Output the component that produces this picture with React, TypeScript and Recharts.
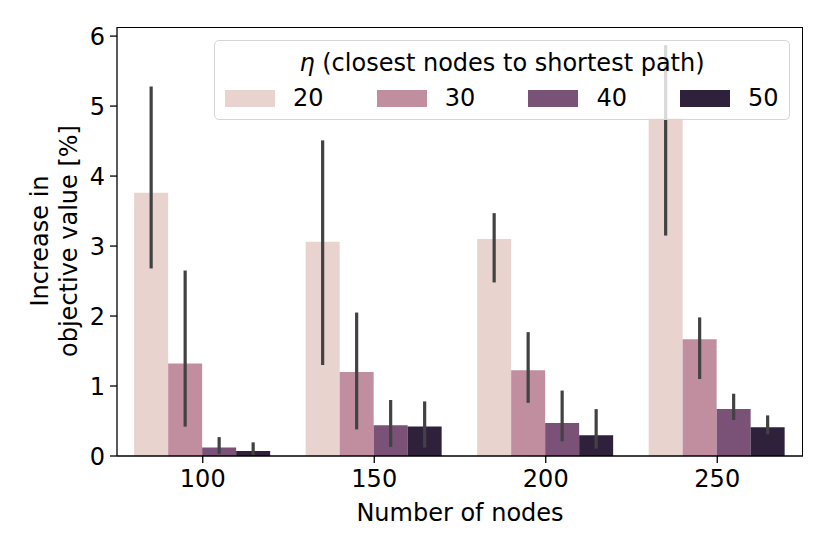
import React from "react";
import {
  BarChart,
  Bar,
  XAxis,
  YAxis,
  ErrorBar,
} from "recharts";

const CATEGORIES = ["100", "150", "200", "250"];
const ETA_LABELS = ["20", "30", "40", "50"];
const COLORS = ["#e9d3cf", "#c08e9f", "#7b5277", "#2f213b"];

// mean increase per eta value
const MEAN_20 = [3.76, 3.06, 3.1, 4.83];
const MEAN_30 = [1.32, 1.2, 1.225, 1.67];
const MEAN_40 = [0.12, 0.44, 0.47, 0.67];
const MEAN_50 = [0.07, 0.42, 0.295, 0.41];

// confidence interval bounds
const LOW_20 = [2.68, 1.3, 2.48, 3.15];
const HIGH_20 = [5.28, 4.51, 3.47, 5.87];
const LOW_30 = [0.42, 0.38, 0.76, 1.1];
const HIGH_30 = [2.65, 2.05, 1.77, 1.98];
const LOW_40 = [0.03, 0.13, 0.21, 0.515];
const HIGH_40 = [0.27, 0.8, 0.935, 0.89];
const LOW_50 = [0.01, 0.12, 0.105, 0.31];
const HIGH_50 = [0.195, 0.78, 0.67, 0.58];

const Y_TICKS = [0, 1, 2, 3, 4, 5, 6];

const MEANS = [MEAN_20, MEAN_30, MEAN_40, MEAN_50];
const LOWS = [LOW_20, LOW_30, LOW_40, LOW_50];
const HIGHS = [HIGH_20, HIGH_30, HIGH_40, HIGH_50];

const data = CATEGORIES.map((cat, i) => {
  const row: Record<string, any> = { nodes: cat };
  ETA_LABELS.forEach((eta, s) => {
    const m = MEANS[s][i];
    row[`m${eta}`] = m;
    row[`e${eta}`] = [m - LOWS[s][i], HIGHS[s][i] - m];
  });
  return row;
});

const FONT = "'DejaVu Sans', sans-serif";
const FS = 24;

function YLabel() {
  return (
    <text
      transform="translate(48,241) rotate(-90)"
      textAnchor="middle"
      fontFamily={FONT}
      fontSize={FS}
      fill="#000"
    >
      <tspan x={0} y={0}>Increase in</tspan>
      <tspan x={0} y={29}>objective value [%]</tspan>
    </text>
  );
}

export default function App() {
  return (
    <div style={{ position: "relative", width: 830, height: 554, fontFamily: FONT }}>
      <style>{"body{margin:0}"}</style>
      <BarChart
        width={830}
        height={554}
        data={data}
        margin={{ top: 27, right: 27, bottom: 0, left: 0 }}
        barCategoryGap="10%"
        barGap={0}
      >
        <XAxis
          dataKey="nodes"
          height={98}
          stroke="#000"
          strokeWidth={1.3}
          tickSize={7}
          tickMargin={7}
          tick={{ fill: "#000", fontSize: FS, fontFamily: FONT }}
          label={{
            value: "Number of nodes",
            position: "insideBottom",
            offset: 33,
            fill: "#000",
            fontSize: FS,
            fontFamily: FONT,
          }}
        />
        <YAxis
          width={117}
          domain={[0, 6.13]}
          ticks={Y_TICKS}
          allowDataOverflow
          stroke="#000"
          strokeWidth={1.3}
          tickSize={7}
          tickMargin={5}
          tick={{ fill: "#000", fontSize: FS, fontFamily: FONT }}
          label={<YLabel />}
        />
        {ETA_LABELS.map((eta, s) => (
          <Bar
            key={eta}
            dataKey={`m${eta}`}
            fill={COLORS[s]}
            isAnimationActive={false}
          >
            <ErrorBar
              dataKey={`e${eta}`}
              width={0}
              stroke="#424242"
              strokeWidth={3.2}
              direction="y"
            />
          </Bar>
        ))}
      </BarChart>

      {/* top and right spines of the axes box */}
      <div
        style={{
          position: "absolute",
          left: 117,
          top: 27,
          width: 686,
          height: 429,
          boxSizing: "border-box",
          borderTop: "1.3px solid #000",
          borderRight: "1.3px solid #000",
          pointerEvents: "none",
        }}
      />

      {/* legend drawn over the plot, semi-transparent like matplotlib */}
      <div
        style={{
          position: "absolute",
          left: 214,
          top: 40,
          width: 576,
          height: 80,
          boxSizing: "border-box",
          border: "1.3px solid #d6d6d6",
          borderRadius: 5,
          background: "rgba(255,255,255,0.8)",
          fontSize: FS,
          color: "#000",
        }}
      >
        <div
          style={{
            position: "absolute",
            left: 0,
            right: 0,
            top: 8,
            textAlign: "center",
            lineHeight: "28px",
          }}
        >
          <span style={{ fontStyle: "italic" }}>η</span> (closest nodes to shortest path)
        </div>
        {ETA_LABELS.map((eta, s) => (
          <div
            key={eta}
            style={{
              position: "absolute",
              left: 10 + s * 151.7,
              top: 49,
              display: "flex",
              alignItems: "center",
              height: 17,
            }}
          >
            <div style={{ width: 50, height: 17, background: COLORS[s] }} />
            <span style={{ marginLeft: 18, lineHeight: "17px" }}>{eta}</span>
          </div>
        ))}
      </div>
    </div>
  );
}
